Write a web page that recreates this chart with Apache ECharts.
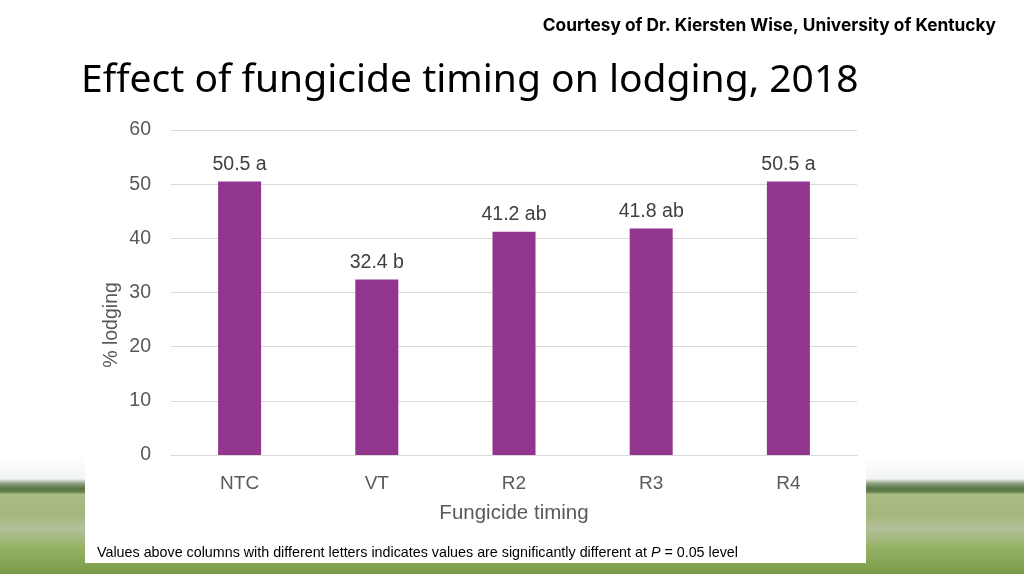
<!DOCTYPE html>
<html lang="en">
<head>
    <meta charset="UTF-8">
    <title>Effect of fungicide timing on lodging, 2018</title>
    <style>
        html, body { margin: 0; padding: 0; background: #ffffff; }
        #chart { width: 1024px; height: 574px; }
    </style>
</head>
<body>
    <div id="chart"></div>
    <script src="https://cdn.jsdelivr.net/npm/echarts@6/dist/echarts.min.js"></script>
    <script>
        // data
        let timings = ['NTC', 'VT', 'R2', 'R3', 'R4'];
        let lodging = [50.5, 32.4, 41.2, 41.8, 50.5];
        let letters = ['a', 'b', 'ab', 'ab', 'a'];
        let yTicks  = [0, 10, 20, 30, 40, 50, 60];

        let myChart = echarts.init(document.getElementById('chart'));

        let chartOption = {
            backgroundColor: '#ffffff',
            animation: false,
            title: [{
                text: 'Courtesy of Dr. Kiersten Wise, University of Kentucky',
                right: 23,
                top: 12,
                textStyle: { fontFamily: 'Inter', fontWeight: 'bold', fontSize: 17.3, color: '#000000' }
            }, {
                text: 'Effect of fungicide timing on lodging, 2018',
                left: 76,
                top: 56,
                textStyle: { fontFamily: 'Noto Sans', fontWeight: 'normal', fontSize: 39, color: '#000000' }
            }, {
                text: '{n|Values above columns with different letters indicates values are significantly different at }{i|P}{n| = 0.05 level}',
                left: 92,
                top: 541,
                textStyle: {
                    fontWeight: 'normal',
                    rich: {
                        n: { fontFamily: 'Liberation Sans', fontWeight: 'normal', fontSize: 14.3, color: '#000000' },
                        i: { fontFamily: 'Liberation Sans', fontWeight: 'normal', fontSize: 14.3, fontStyle: 'italic', color: '#000000' }
                    }
                }
            }],
            graphic: [{
                // field photo stand-in: sky, horizon, crop rows
                type: 'rect',
                z: -10,
                shape: { x: 0, y: 455, width: 1024, height: 119 },
                style: {
                    fill: {
                        type: 'linear', x: 0, y: 0, x2: 0, y2: 1,
                        colorStops: [
                            { offset: 0, color: '#ffffff' },
                            { offset: 0.2, color: '#f2f4f3' },
                            { offset: 0.24, color: '#8c9f80' },
                            { offset: 0.28, color: '#587547' },
                            { offset: 0.31, color: '#64804c' },
                            { offset: 0.33, color: '#a9bc83' },
                            { offset: 0.5, color: '#a3b67c' },
                            { offset: 0.62, color: '#b4c09b' },
                            { offset: 0.78, color: '#95b264' },
                            { offset: 1, color: '#7a9a4a' }
                        ]
                    }
                }
            }, {
                type: 'rect',
                z: -9,
                shape: { x: 85, y: 440, width: 781, height: 123 },
                style: { fill: '#ffffff' }
            }, {
                type: 'text',
                z: 10,
                x: 112,
                y: 325,
                rotation: Math.PI / 2,
                style: {
                    text: '% lodging',
                    textAlign: 'center',
                    textVerticalAlign: 'middle',
                    fontFamily: 'Liberation Sans',
                    fontSize: 19.5,
                    fill: '#595959'
                }
            }],
            grid: {
                left: 171,
                right: 167,
                top: 130,
                bottom: 119
            },
            xAxis: {
                type: 'category',
                data: timings,
                name: 'Fungicide timing',
                nameLocation: 'middle',
                nameGap: 48,
                nameTextStyle: { fontFamily: 'Liberation Sans', fontSize: 20.5, color: '#595959' },
                axisLine: { lineStyle: { color: '#d9d9d9', width: 1 } },
                axisTick: { show: false },
                axisLabel: { margin: 19, fontFamily: 'Liberation Sans', fontSize: 19, color: '#595959' }
            },
            yAxis: {
                type: 'value',
                min: yTicks[0],
                max: yTicks[yTicks.length - 1],
                interval: 10,
                axisLine: { show: false },
                axisTick: { show: false },
                axisLabel: { margin: 20, fontFamily: 'Liberation Sans', fontSize: 19.5, color: '#595959' },
                splitLine: { lineStyle: { color: '#d9d9d9', width: 1 } }
            },
            series: [{
                type: 'bar',
                data: lodging,
                barWidth: 43,
                itemStyle: { color: '#92358e' },
                label: {
                    show: true,
                    position: 'top',
                    distance: 7,
                    fontFamily: 'Liberation Sans',
                    fontSize: 19.5,
                    color: '#404040',
                    formatter: function (p) {
                        return p.value.toFixed(1) + ' ' + letters[p.dataIndex];
                    }
                }
            }]
        };

        myChart.setOption(chartOption);
    </script>
</body>
</html>
